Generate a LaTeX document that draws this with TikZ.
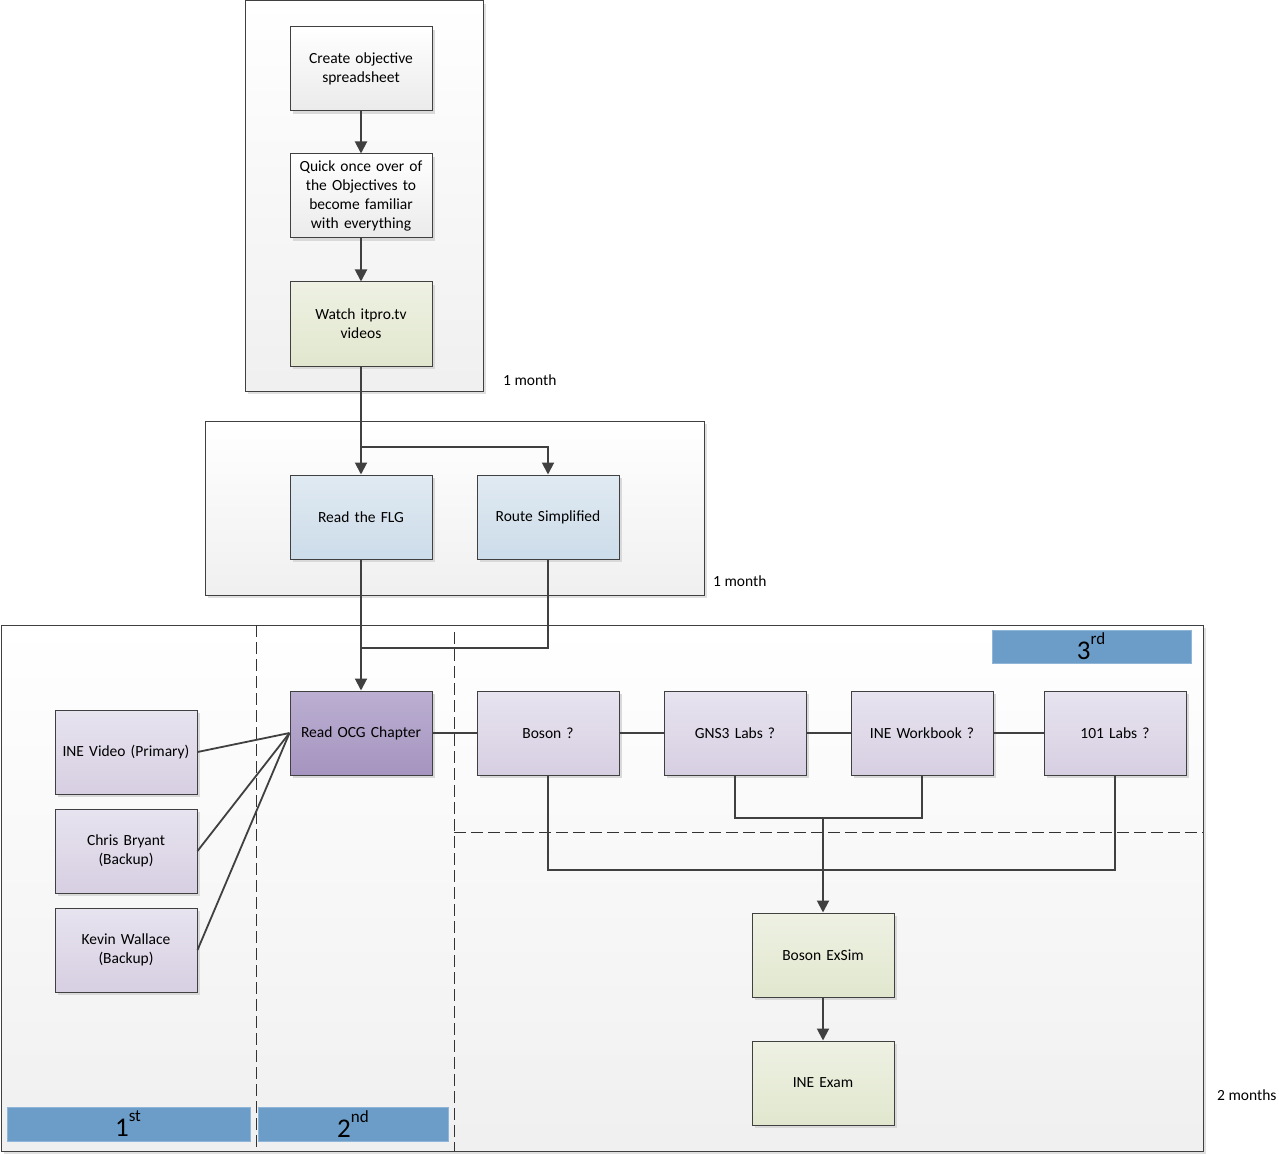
\documentclass[tikz,border=0pt]{standalone}
\usepackage{fontspec}
\setmainfont{Carlito}
\usetikzlibrary{shadows,arrows.meta}
\definecolor{edge}{HTML}{404040}
\definecolor{bar}{HTML}{6B9DC8}
\definecolor{grnT}{HTML}{EEF1E3}
\definecolor{grnB}{HTML}{E1E7CE}
\definecolor{bluT}{HTML}{E0EAF2}
\definecolor{bluB}{HTML}{CCDCE9}
\definecolor{lilT}{HTML}{E7E3EF}
\definecolor{lilB}{HTML}{D7CFE2}
\definecolor{ocgT}{HTML}{BBAFD2}
\definecolor{ocgB}{HTML}{A594BF}
\definecolor{barE}{HTML}{8FB6D8}
\tikzset{
  cont/.style={draw=edge, line width=1pt, top color=white, bottom color=black!6,
    drop shadow={shadow xshift=3pt, shadow yshift=-3pt, fill=black!12, opacity=1}},
  box/.style={draw=edge, line width=1pt, minimum width=142pt, minimum height=84pt,
    align=center, text width=136pt, font=\fontsize{15.5pt}{19pt}\selectfont, inner sep=0pt,
    drop shadow={shadow xshift=3pt, shadow yshift=-3pt, fill=black!15, opacity=1}},
  greybox/.style={box, top color=white, bottom color=black!8},
  greenbox/.style={box, top color=grnT, bottom color=grnB},
  bluebox/.style={box, top color=bluT, bottom color=bluB},
  lilacbox/.style={box, top color=lilT, bottom color=lilB},
  ocgbox/.style={box, top color=ocgT, bottom color=ocgB},
  arr/.style={draw=edge, line width=2pt, -{Triangle[length=12pt,width=12pt]}},
  conn/.style={draw=edge, line width=1.8pt},
  dashline/.style={draw=black!80, line width=0.8pt, dash pattern=on 12pt off 5pt},
  barbox/.style={fill=bar, draw=barE, line width=0.6pt, inner sep=0pt, font=\fontsize{27pt}{28pt}\selectfont},
  note/.style={font=\fontsize{15.5pt}{17pt}\selectfont, anchor=west, inner sep=0pt}
}
\newcommand{\supx}[1]{\raisebox{0.55em}{\fontsize{17pt}{18pt}\selectfont #1}}
\begin{document}
\begin{tikzpicture}[x=1pt,y=-1pt]
\useasboundingbox[fill=white] (0,0) rectangle (1279,1155);
% containers
\path[cont] (245,1) rectangle (483,391);
\path[cont] (205,421) rectangle (704,595);
\path[cont] (1,625) rectangle (1203,1151);
\node[note] (m1) at (503,380) {1 month};
\node[note] (m2) at (713,581) {1 month};
\node[note] (m3) at (1217,1095) {2 months};
% dashed lane lines
\coordinate (d1a) at (256,625); \coordinate (d1b) at (256,1151);
\coordinate (d2a) at (454,632); \coordinate (d2b) at (454,1151);
\coordinate (d3a) at (454,832); \coordinate (d3b) at (1203,832);
\draw[dashline] (d1a) -- (d1b);
\draw[dashline] (d2a) -- (d2b);
\draw[dashline] (d3a) -- (d3b);
% bars
\node[barbox, minimum width=243pt, minimum height=34pt] (b1) at (128.5,1124) {};
\node[barbox, minimum width=190pt, minimum height=34pt] (b2) at (353,1124) {};
\node[barbox, minimum width=199pt, minimum height=33pt] (b3) at (1091.5,646.5) {};
\node[font=\fontsize{27pt}{28pt}\selectfont, inner sep=0pt] (t1) at (128,1124) {1\supx{st}};
\node[font=\fontsize{27pt}{28pt}\selectfont, inner sep=0pt] (t2) at (353,1124) {2\supx{nd}};
\node[font=\fontsize{27pt}{28pt}\selectfont, inner sep=0pt] (t3) at (1091,646) {3\supx{rd}};
% boxes
\node[greybox] (create) at (361,69) {Create objective\\spreadsheet};
\node[greybox] (quick) at (361,196) {Quick once over of\\the Objectives to\\become familiar\\with everything};
\node[greenbox] (watch) at (361,324) {Watch itpro.tv\\videos};
\node[bluebox] (flg) at (361,517) {Read the FLG};
\node[bluebox] (route) at (548,517) {Route Simplified};
\node[ocgbox] (ocg) at (361,733) {Read OCG Chapter};
\node[lilacbox] (inev) at (126,752) {INE Video (Primary)};
\node[lilacbox] (chris) at (126,851) {Chris Bryant\\(Backup)};
\node[lilacbox] (kevin) at (126,950) {Kevin Wallace\\(Backup)};
\node[lilacbox] (boson) at (548,733) {Boson ?};
\node[lilacbox] (gns) at (735,733) {GNS3 Labs ?};
\node[lilacbox] (inewb) at (922,733) {INE Workbook ?};
\node[lilacbox] (labs) at (1115,733) {101 Labs ?};
\node[greenbox] (exsim) at (823,955) {Boson ExSim};
\node[greenbox] (exam) at (823,1083) {INE Exam};
% connectors
\draw[arr] (create) -- (quick);
\draw[arr] (quick) -- (watch);
\coordinate (j1) at (361,447);
\coordinate (j2) at (361,648);
\coordinate (j3) at (823,818);
\coordinate (j4) at (823,870);
\draw[arr] (watch.south) -- (flg.north);
\draw[arr] (j1) -| (route.north);
\draw[arr] (flg.south) -- (ocg.north);
\draw[conn] (route.south) |- (j2);
\draw[conn] (inev.east) -- (ocg.west);
\draw[conn] (chris.east) -- (ocg.west);
\draw[conn] (kevin.east) -- (ocg.west);
\draw[conn] (ocg.east) -- (boson.west);
\draw[conn] (boson.east) -- (gns.west);
\draw[conn] (gns.east) -- (inewb.west);
\draw[conn] (inewb.east) -- (labs.west);
\draw[conn] (gns.south) |- (j3) -| (inewb.south);
\draw[conn] (boson.south) |- (j4) -| (labs.south);
\draw[arr] (j3) -- (exsim.north);
\draw[arr] (exsim) -- (exam);
\end{tikzpicture}
\end{document}
